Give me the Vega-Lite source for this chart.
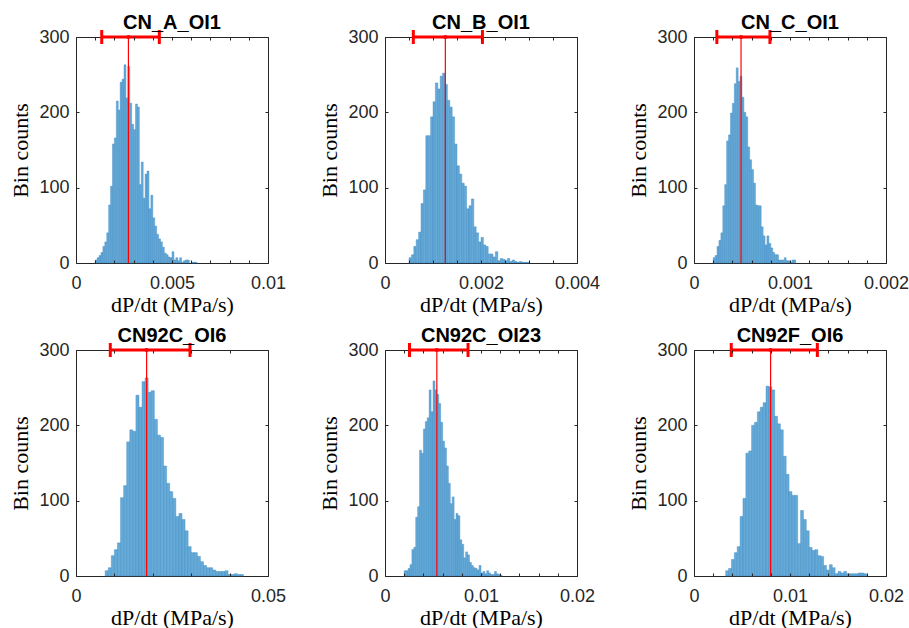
{
  "$schema": "https://vega.github.io/schema/vega-lite/v6.json",
  "background": "white",
  "padding": {"left": 9, "top": 12, "right": 5, "bottom": 5},
  "datasets": {
    "hist": [
      {"panel":"p1","x0":0.001,"x1":0.0011,"count":4},{"panel":"p1","x0":0.0011,"x1":0.0012,"count":7},{"panel":"p1","x0":0.0012,"x1":0.0013,"count":10},{"panel":"p1","x0":0.0013,"x1":0.0014,"count":14},{"panel":"p1","x0":0.0014,"x1":0.0015,"count":22},{"panel":"p1","x0":0.0015,"x1":0.0016,"count":28},{"panel":"p1","x0":0.0016,"x1":0.0017,"count":40},{"panel":"p1","x0":0.0017,"x1":0.0018,"count":77},{"panel":"p1","x0":0.0018,"x1":0.0019,"count":102},{"panel":"p1","x0":0.0019,"x1":0.002,"count":158},{"panel":"p1","x0":0.002,"x1":0.0021,"count":166},{"panel":"p1","x0":0.0021,"x1":0.0022,"count":215},{"panel":"p1","x0":0.0022,"x1":0.0023,"count":203},{"panel":"p1","x0":0.0023,"x1":0.0024,"count":240},{"panel":"p1","x0":0.0024,"x1":0.0025,"count":244},{"panel":"p1","x0":0.0025,"x1":0.0026,"count":263},{"panel":"p1","x0":0.0026,"x1":0.0027,"count":219},{"panel":"p1","x0":0.0027,"x1":0.0028,"count":261},{"panel":"p1","x0":0.0028,"x1":0.0029,"count":212},{"panel":"p1","x0":0.0029,"x1":0.003,"count":184},{"panel":"p1","x0":0.003,"x1":0.0031,"count":177},{"panel":"p1","x0":0.0031,"x1":0.0032,"count":211},{"panel":"p1","x0":0.0032,"x1":0.0033,"count":207},{"panel":"p1","x0":0.0033,"x1":0.0034,"count":104},{"panel":"p1","x0":0.0034,"x1":0.0035,"count":134},{"panel":"p1","x0":0.0035,"x1":0.0036,"count":86},{"panel":"p1","x0":0.0036,"x1":0.0037,"count":118},{"panel":"p1","x0":0.0037,"x1":0.0038,"count":122},{"panel":"p1","x0":0.0038,"x1":0.0039,"count":72},{"panel":"p1","x0":0.0039,"x1":0.004,"count":90},{"panel":"p1","x0":0.004,"x1":0.0041,"count":60},{"panel":"p1","x0":0.0041,"x1":0.0042,"count":49},{"panel":"p1","x0":0.0042,"x1":0.0043,"count":38},{"panel":"p1","x0":0.0043,"x1":0.0044,"count":32},{"panel":"p1","x0":0.0044,"x1":0.0045,"count":28},{"panel":"p1","x0":0.0045,"x1":0.0046,"count":21},{"panel":"p1","x0":0.0046,"x1":0.0047,"count":13},{"panel":"p1","x0":0.0047,"x1":0.0048,"count":11},{"panel":"p1","x0":0.0048,"x1":0.0049,"count":8},{"panel":"p1","x0":0.0049,"x1":0.005,"count":7},{"panel":"p1","x0":0.005,"x1":0.0051,"count":15},{"panel":"p1","x0":0.0051,"x1":0.0052,"count":4},{"panel":"p1","x0":0.0052,"x1":0.0053,"count":7},{"panel":"p1","x0":0.0053,"x1":0.0054,"count":3},{"panel":"p1","x0":0.0054,"x1":0.0055,"count":7},{"panel":"p1","x0":0.0055,"x1":0.0056,"count":1},{"panel":"p1","x0":0.0056,"x1":0.0057,"count":3},{"panel":"p1","x0":0.0057,"x1":0.0058,"count":4},{"panel":"p1","x0":0.0058,"x1":0.0059,"count":4},{"panel":"p1","x0":0.006,"x1":0.0061,"count":1},{"panel":"p1","x0":0.0061,"x1":0.0062,"count":1},{"panel":"p1","x0":0.0062,"x1":0.0063,"count":1},

      {"panel":"p2","x0":0.0005,"x1":0.00055,"count":7},{"panel":"p2","x0":0.00055,"x1":0.0006,"count":11},{"panel":"p2","x0":0.0006,"x1":0.00065,"count":22},{"panel":"p2","x0":0.00065,"x1":0.0007,"count":31},{"panel":"p2","x0":0.0007,"x1":0.00075,"count":41},{"panel":"p2","x0":0.00075,"x1":0.0008,"count":79},{"panel":"p2","x0":0.0008,"x1":0.00085,"count":97},{"panel":"p2","x0":0.00085,"x1":0.0009,"count":169},{"panel":"p2","x0":0.0009,"x1":0.00095,"count":169},{"panel":"p2","x0":0.00095,"x1":0.001,"count":194},{"panel":"p2","x0":0.001,"x1":0.00105,"count":214},{"panel":"p2","x0":0.00105,"x1":0.0011,"count":239},{"panel":"p2","x0":0.0011,"x1":0.00115,"count":231},{"panel":"p2","x0":0.00115,"x1":0.0012,"count":248},{"panel":"p2","x0":0.0012,"x1":0.00125,"count":252},{"panel":"p2","x0":0.00125,"x1":0.0013,"count":237},{"panel":"p2","x0":0.0013,"x1":0.00135,"count":216},{"panel":"p2","x0":0.00135,"x1":0.0014,"count":207},{"panel":"p2","x0":0.0014,"x1":0.00145,"count":194},{"panel":"p2","x0":0.00145,"x1":0.0015,"count":158},{"panel":"p2","x0":0.0015,"x1":0.00155,"count":129},{"panel":"p2","x0":0.00155,"x1":0.0016,"count":118},{"panel":"p2","x0":0.0016,"x1":0.00165,"count":106},{"panel":"p2","x0":0.00165,"x1":0.0017,"count":102},{"panel":"p2","x0":0.0017,"x1":0.00175,"count":72},{"panel":"p2","x0":0.00175,"x1":0.0018,"count":76},{"panel":"p2","x0":0.0018,"x1":0.00185,"count":85},{"panel":"p2","x0":0.00185,"x1":0.0019,"count":48},{"panel":"p2","x0":0.0019,"x1":0.00195,"count":40},{"panel":"p2","x0":0.00195,"x1":0.002,"count":28},{"panel":"p2","x0":0.002,"x1":0.00205,"count":34},{"panel":"p2","x0":0.00205,"x1":0.0021,"count":24},{"panel":"p2","x0":0.0021,"x1":0.00215,"count":22},{"panel":"p2","x0":0.00215,"x1":0.0022,"count":12},{"panel":"p2","x0":0.0022,"x1":0.00225,"count":12},{"panel":"p2","x0":0.00225,"x1":0.0023,"count":8},{"panel":"p2","x0":0.0023,"x1":0.00235,"count":15},{"panel":"p2","x0":0.00235,"x1":0.0024,"count":3},{"panel":"p2","x0":0.0024,"x1":0.00245,"count":6},{"panel":"p2","x0":0.00245,"x1":0.0025,"count":5},{"panel":"p2","x0":0.0025,"x1":0.00255,"count":3},{"panel":"p2","x0":0.00255,"x1":0.0026,"count":6},{"panel":"p2","x0":0.0026,"x1":0.00265,"count":2},{"panel":"p2","x0":0.00265,"x1":0.0027,"count":4},{"panel":"p2","x0":0.0027,"x1":0.00275,"count":2},{"panel":"p2","x0":0.00275,"x1":0.0028,"count":1},{"panel":"p2","x0":0.0028,"x1":0.00285,"count":2},{"panel":"p2","x0":0.00285,"x1":0.0029,"count":1},{"panel":"p2","x0":0.0029,"x1":0.00295,"count":1},{"panel":"p2","x0":0.00295,"x1":0.003,"count":1},

      {"panel":"p3","x0":0.0002,"x1":0.00022,"count":7},{"panel":"p3","x0":0.00022,"x1":0.00024,"count":10},{"panel":"p3","x0":0.00024,"x1":0.00026,"count":22},{"panel":"p3","x0":0.00026,"x1":0.00028,"count":30},{"panel":"p3","x0":0.00028,"x1":0.0003,"count":40},{"panel":"p3","x0":0.0003,"x1":0.00032,"count":76},{"panel":"p3","x0":0.00032,"x1":0.00034,"count":104},{"panel":"p3","x0":0.00034,"x1":0.00036,"count":162},{"panel":"p3","x0":0.00036,"x1":0.00038,"count":170},{"panel":"p3","x0":0.00038,"x1":0.0004,"count":199},{"panel":"p3","x0":0.0004,"x1":0.00042,"count":212},{"panel":"p3","x0":0.00042,"x1":0.00044,"count":238},{"panel":"p3","x0":0.00044,"x1":0.00046,"count":259},{"panel":"p3","x0":0.00046,"x1":0.00048,"count":241},{"panel":"p3","x0":0.00048,"x1":0.0005,"count":248},{"panel":"p3","x0":0.0005,"x1":0.00052,"count":220},{"panel":"p3","x0":0.00052,"x1":0.00054,"count":200},{"panel":"p3","x0":0.00054,"x1":0.00056,"count":194},{"panel":"p3","x0":0.00056,"x1":0.00058,"count":154},{"panel":"p3","x0":0.00058,"x1":0.0006,"count":137},{"panel":"p3","x0":0.0006,"x1":0.00062,"count":124},{"panel":"p3","x0":0.00062,"x1":0.00064,"count":106},{"panel":"p3","x0":0.00064,"x1":0.00066,"count":77},{"panel":"p3","x0":0.00066,"x1":0.00068,"count":76},{"panel":"p3","x0":0.00068,"x1":0.0007,"count":76},{"panel":"p3","x0":0.0007,"x1":0.00072,"count":48},{"panel":"p3","x0":0.00072,"x1":0.00074,"count":36},{"panel":"p3","x0":0.00074,"x1":0.00076,"count":24},{"panel":"p3","x0":0.00076,"x1":0.00078,"count":36},{"panel":"p3","x0":0.00078,"x1":0.0008,"count":26},{"panel":"p3","x0":0.0008,"x1":0.00082,"count":20},{"panel":"p3","x0":0.00082,"x1":0.00084,"count":14},{"panel":"p3","x0":0.00084,"x1":0.00086,"count":11},{"panel":"p3","x0":0.00086,"x1":0.00088,"count":11},{"panel":"p3","x0":0.00088,"x1":0.0009,"count":4},{"panel":"p3","x0":0.0009,"x1":0.00092,"count":4},{"panel":"p3","x0":0.00092,"x1":0.00094,"count":4},{"panel":"p3","x0":0.00094,"x1":0.00096,"count":7},{"panel":"p3","x0":0.00096,"x1":0.00098,"count":3},{"panel":"p3","x0":0.00098,"x1":0.001,"count":3},{"panel":"p3","x0":0.001,"x1":0.00102,"count":1},{"panel":"p3","x0":0.00102,"x1":0.00104,"count":4},{"panel":"p3","x0":0.00104,"x1":0.00106,"count":4},

      {"panel":"p4","x0":0.0076,"x1":0.0084,"count":7},{"panel":"p4","x0":0.0084,"x1":0.0092,"count":11},{"panel":"p4","x0":0.0092,"x1":0.01,"count":27},{"panel":"p4","x0":0.01,"x1":0.0108,"count":35},{"panel":"p4","x0":0.0108,"x1":0.0116,"count":44},{"panel":"p4","x0":0.0116,"x1":0.0124,"count":104},{"panel":"p4","x0":0.0124,"x1":0.0132,"count":120},{"panel":"p4","x0":0.0132,"x1":0.014,"count":178},{"panel":"p4","x0":0.014,"x1":0.0148,"count":194},{"panel":"p4","x0":0.0148,"x1":0.0156,"count":192},{"panel":"p4","x0":0.0156,"x1":0.0164,"count":240},{"panel":"p4","x0":0.0164,"x1":0.0172,"count":224},{"panel":"p4","x0":0.0172,"x1":0.018,"count":258},{"panel":"p4","x0":0.018,"x1":0.0188,"count":263},{"panel":"p4","x0":0.0188,"x1":0.0196,"count":244},{"panel":"p4","x0":0.0196,"x1":0.0204,"count":246},{"panel":"p4","x0":0.0204,"x1":0.0212,"count":208},{"panel":"p4","x0":0.0212,"x1":0.022,"count":187},{"panel":"p4","x0":0.022,"x1":0.0228,"count":184},{"panel":"p4","x0":0.0228,"x1":0.0236,"count":146},{"panel":"p4","x0":0.0236,"x1":0.0244,"count":123},{"panel":"p4","x0":0.0244,"x1":0.0252,"count":112},{"panel":"p4","x0":0.0252,"x1":0.026,"count":103},{"panel":"p4","x0":0.026,"x1":0.0268,"count":79},{"panel":"p4","x0":0.0268,"x1":0.0276,"count":83},{"panel":"p4","x0":0.0276,"x1":0.0284,"count":75},{"panel":"p4","x0":0.0284,"x1":0.0292,"count":60},{"panel":"p4","x0":0.0292,"x1":0.03,"count":39},{"panel":"p4","x0":0.03,"x1":0.0308,"count":31},{"panel":"p4","x0":0.0308,"x1":0.0316,"count":31},{"panel":"p4","x0":0.0316,"x1":0.0324,"count":26},{"panel":"p4","x0":0.0324,"x1":0.0332,"count":19},{"panel":"p4","x0":0.0332,"x1":0.034,"count":14},{"panel":"p4","x0":0.034,"x1":0.0348,"count":11},{"panel":"p4","x0":0.0348,"x1":0.0356,"count":11},{"panel":"p4","x0":0.0356,"x1":0.0364,"count":8},{"panel":"p4","x0":0.0364,"x1":0.0372,"count":6},{"panel":"p4","x0":0.0372,"x1":0.038,"count":6},{"panel":"p4","x0":0.038,"x1":0.0388,"count":6},{"panel":"p4","x0":0.0388,"x1":0.0396,"count":7},{"panel":"p4","x0":0.0396,"x1":0.0404,"count":2},{"panel":"p4","x0":0.0404,"x1":0.0412,"count":2},{"panel":"p4","x0":0.0412,"x1":0.042,"count":3},{"panel":"p4","x0":0.042,"x1":0.0428,"count":2},{"panel":"p4","x0":0.0428,"x1":0.0436,"count":2},

      {"panel":"p5","x0":0.002,"x1":0.0022,"count":7},{"panel":"p5","x0":0.0022,"x1":0.0024,"count":7},{"panel":"p5","x0":0.0024,"x1":0.0026,"count":10},{"panel":"p5","x0":0.0026,"x1":0.0028,"count":15},{"panel":"p5","x0":0.0028,"x1":0.003,"count":35},{"panel":"p5","x0":0.003,"x1":0.0032,"count":38},{"panel":"p5","x0":0.0032,"x1":0.0034,"count":78},{"panel":"p5","x0":0.0034,"x1":0.0036,"count":92},{"panel":"p5","x0":0.0036,"x1":0.0038,"count":167},{"panel":"p5","x0":0.0038,"x1":0.004,"count":163},{"panel":"p5","x0":0.004,"x1":0.0042,"count":195},{"panel":"p5","x0":0.0042,"x1":0.0044,"count":205},{"panel":"p5","x0":0.0044,"x1":0.0046,"count":210},{"panel":"p5","x0":0.0046,"x1":0.0048,"count":247},{"panel":"p5","x0":0.0048,"x1":0.005,"count":218},{"panel":"p5","x0":0.005,"x1":0.0052,"count":259},{"panel":"p5","x0":0.0052,"x1":0.0054,"count":247},{"panel":"p5","x0":0.0054,"x1":0.0056,"count":241},{"panel":"p5","x0":0.0056,"x1":0.0058,"count":229},{"panel":"p5","x0":0.0058,"x1":0.006,"count":204},{"panel":"p5","x0":0.006,"x1":0.0062,"count":179},{"panel":"p5","x0":0.0062,"x1":0.0064,"count":170},{"panel":"p5","x0":0.0064,"x1":0.0066,"count":146},{"panel":"p5","x0":0.0066,"x1":0.0068,"count":123},{"panel":"p5","x0":0.0068,"x1":0.007,"count":96},{"panel":"p5","x0":0.007,"x1":0.0072,"count":105},{"panel":"p5","x0":0.0072,"x1":0.0074,"count":75},{"panel":"p5","x0":0.0074,"x1":0.0076,"count":83},{"panel":"p5","x0":0.0076,"x1":0.0078,"count":80},{"panel":"p5","x0":0.0078,"x1":0.008,"count":48},{"panel":"p5","x0":0.008,"x1":0.0082,"count":42},{"panel":"p5","x0":0.0082,"x1":0.0084,"count":24},{"panel":"p5","x0":0.0084,"x1":0.0086,"count":32},{"panel":"p5","x0":0.0086,"x1":0.0088,"count":28},{"panel":"p5","x0":0.0088,"x1":0.009,"count":18},{"panel":"p5","x0":0.009,"x1":0.0092,"count":14},{"panel":"p5","x0":0.0092,"x1":0.0094,"count":11},{"panel":"p5","x0":0.0094,"x1":0.0096,"count":10},{"panel":"p5","x0":0.0096,"x1":0.0098,"count":8},{"panel":"p5","x0":0.0098,"x1":0.01,"count":14},{"panel":"p5","x0":0.01,"x1":0.0102,"count":4},{"panel":"p5","x0":0.0102,"x1":0.0104,"count":6},{"panel":"p5","x0":0.0104,"x1":0.0106,"count":3},{"panel":"p5","x0":0.0106,"x1":0.0108,"count":7},{"panel":"p5","x0":0.0108,"x1":0.011,"count":4},{"panel":"p5","x0":0.011,"x1":0.0112,"count":2},{"panel":"p5","x0":0.0112,"x1":0.0114,"count":2},{"panel":"p5","x0":0.0114,"x1":0.0116,"count":6},{"panel":"p5","x0":0.0116,"x1":0.0118,"count":3},{"panel":"p5","x0":0.0118,"x1":0.012,"count":2},{"panel":"p5","x0":0.012,"x1":0.0122,"count":1},

      {"panel":"p6","x0":0.0033,"x1":0.0036,"count":7},{"panel":"p6","x0":0.0036,"x1":0.0039,"count":10},{"panel":"p6","x0":0.0039,"x1":0.0042,"count":22},{"panel":"p6","x0":0.0042,"x1":0.0045,"count":31},{"panel":"p6","x0":0.0045,"x1":0.0048,"count":39},{"panel":"p6","x0":0.0048,"x1":0.0051,"count":79},{"panel":"p6","x0":0.0051,"x1":0.0054,"count":103},{"panel":"p6","x0":0.0054,"x1":0.0057,"count":163},{"panel":"p6","x0":0.0057,"x1":0.006,"count":166},{"panel":"p6","x0":0.006,"x1":0.0063,"count":200},{"panel":"p6","x0":0.0063,"x1":0.0066,"count":204},{"panel":"p6","x0":0.0066,"x1":0.0069,"count":218},{"panel":"p6","x0":0.0069,"x1":0.0072,"count":224},{"panel":"p6","x0":0.0072,"x1":0.0075,"count":230},{"panel":"p6","x0":0.0075,"x1":0.0078,"count":252},{"panel":"p6","x0":0.0078,"x1":0.0081,"count":251},{"panel":"p6","x0":0.0081,"x1":0.0084,"count":247},{"panel":"p6","x0":0.0084,"x1":0.0087,"count":212},{"panel":"p6","x0":0.0087,"x1":0.009,"count":202},{"panel":"p6","x0":0.009,"x1":0.0093,"count":194},{"panel":"p6","x0":0.0093,"x1":0.0096,"count":159},{"panel":"p6","x0":0.0096,"x1":0.0099,"count":135},{"panel":"p6","x0":0.0099,"x1":0.0102,"count":112},{"panel":"p6","x0":0.0102,"x1":0.0105,"count":107},{"panel":"p6","x0":0.0105,"x1":0.0108,"count":107},{"panel":"p6","x0":0.0108,"x1":0.0111,"count":43},{"panel":"p6","x0":0.0111,"x1":0.0114,"count":87},{"panel":"p6","x0":0.0114,"x1":0.0117,"count":75},{"panel":"p6","x0":0.0117,"x1":0.012,"count":60},{"panel":"p6","x0":0.012,"x1":0.0123,"count":38},{"panel":"p6","x0":0.0123,"x1":0.0126,"count":34},{"panel":"p6","x0":0.0126,"x1":0.0129,"count":35},{"panel":"p6","x0":0.0129,"x1":0.0132,"count":27},{"panel":"p6","x0":0.0132,"x1":0.0135,"count":26},{"panel":"p6","x0":0.0135,"x1":0.0138,"count":14},{"panel":"p6","x0":0.0138,"x1":0.0141,"count":8},{"panel":"p6","x0":0.0141,"x1":0.0144,"count":15},{"panel":"p6","x0":0.0144,"x1":0.0147,"count":11},{"panel":"p6","x0":0.0147,"x1":0.015,"count":3},{"panel":"p6","x0":0.015,"x1":0.0153,"count":6},{"panel":"p6","x0":0.0153,"x1":0.0156,"count":4},{"panel":"p6","x0":0.0156,"x1":0.0159,"count":6},{"panel":"p6","x0":0.0159,"x1":0.0162,"count":3},{"panel":"p6","x0":0.0162,"x1":0.0165,"count":3},{"panel":"p6","x0":0.0165,"x1":0.0168,"count":3},{"panel":"p6","x0":0.0168,"x1":0.0171,"count":3},{"panel":"p6","x0":0.0171,"x1":0.0174,"count":4},{"panel":"p6","x0":0.0174,"x1":0.0177,"count":4},{"panel":"p6","x0":0.0177,"x1":0.018,"count":3}
    ],
    "stats": [
      {"panel":"p1","median":0.00273,"lo":0.00134,"hi":0.00434},
      {"panel":"p2","median":0.001257,"lo":0.00059,"hi":0.00203},
      {"panel":"p3","median":0.00049,"lo":0.000238,"hi":0.000791},
      {"panel":"p4","median":0.01839,"lo":0.00893,"hi":0.02969},
      {"panel":"p5","median":0.0054,"lo":0.00255,"hi":0.00865},
      {"panel":"p6","median":0.00798,"lo":0.00388,"hi":0.01285}
    ]
  },
  "columns": 3,
  "spacing": {"row": 87, "column": 117},
  "bounds": "flush",
  "concat": [
    {
      "width": 192, "height": 226, "title": "CN_A_OI1",
      "resolve": {"axis": {"x": "independent", "y": "independent"}},
      "layer": [
        {"data": {"name": "hist"}, "transform": [{"filter": "datum.panel === 'p1'"}],
         "mark": {"type": "bar", "fill": "#66aad7", "stroke": "#3585c2", "strokeWidth": 0.4},
         "encoding": {
           "x": {"field": "x0", "type": "quantitative", "scale": {"domain": [0, 0.01], "nice": false, "zero": false, "padding": 0},
                 "axis": {"orient": "bottom", "values": [0,0.001,0.002,0.003,0.004,0.005,0.006,0.007,0.008,0.009,0.01], "format": "~g", "labelExpr": "indexof(['0','0.005','0.01'], datum.label) >= 0 ? datum.label : ''", "title": "dP/dt (MPa/s)", "ticks": false}},
           "x2": {"field": "x1"},
           "y": {"field": "count", "type": "quantitative", "scale": {"domain": [0, 300], "nice": false, "padding": 0},
                 "axis": {"orient": "left", "values": [0,100,200,300], "title": "Bin counts", "ticks": false}},
           "y2": {"datum": 0}
         }},
        {"data": {"name": "stats"}, "transform": [{"filter": "datum.panel === 'p1'"}],
         "mark": {"type": "rule", "color": "#ff0000", "strokeWidth": 1.2},
         "encoding": {
           "x": {"field": "median", "type": "quantitative", "axis": {"orient": "top", "offset": -226, "values": [0,0.001,0.002,0.003,0.004,0.005,0.006,0.007,0.008,0.009,0.01], "labels": false, "title": null, "zindex": 1}},
           "y": {"datum": 0, "type": "quantitative", "axis": {"orient": "right", "offset": -192, "values": [0,100,200,300], "labels": false, "title": null, "zindex": 1}},
           "y2": {"datum": 300}
         }},
        {"data": {"name": "stats"}, "transform": [{"filter": "datum.panel === 'p1'"}],
         "mark": {"type": "rule", "color": "#ff0000", "strokeWidth": 3},
         "encoding": {"x": {"field": "lo", "type": "quantitative", "axis": {"orient": "bottom", "offset": -226, "values": [0,0.001,0.002,0.003,0.004,0.005,0.006,0.007,0.008,0.009,0.01], "labels": false, "title": null, "zindex": 1}}, "x2": {"field": "hi"},
                      "y": {"datum": 300, "type": "quantitative", "axis": {"orient": "left", "offset": -192, "values": [0,100,200,300], "labels": false, "title": null, "zindex": 1}}}},
        {"data": {"name": "stats"}, "transform": [{"filter": "datum.panel === 'p1'"}],
         "mark": {"type": "tick", "orient": "vertical", "color": "#ff0000", "size": 14, "thickness": 3, "opacity": 1},
         "encoding": {"x": {"field": "lo", "type": "quantitative", "axis": null}, "y": {"datum": 300, "type": "quantitative", "axis": null}}},
        {"data": {"name": "stats"}, "transform": [{"filter": "datum.panel === 'p1'"}],
         "mark": {"type": "tick", "orient": "vertical", "color": "#ff0000", "size": 14, "thickness": 3, "opacity": 1},
         "encoding": {"x": {"field": "hi", "type": "quantitative", "axis": null}, "y": {"datum": 300, "type": "quantitative", "axis": null}}},
        {"data": {"name": "stats"}, "transform": [{"filter": "datum.panel === 'p1'"}],
         "mark": {"type": "point", "filled": true, "color": "#ff0000", "size": 18, "opacity": 1},
         "encoding": {"x": {"field": "median", "type": "quantitative", "axis": null}, "y": {"datum": 300, "type": "quantitative", "axis": null}}}
      ]
    },
    {
      "width": 192, "height": 226, "title": "CN_B_OI1",
      "resolve": {"axis": {"x": "independent", "y": "independent"}},
      "layer": [
        {"data": {"name": "hist"}, "transform": [{"filter": "datum.panel === 'p2'"}],
         "mark": {"type": "bar", "fill": "#66aad7", "stroke": "#3585c2", "strokeWidth": 0.4},
         "encoding": {
           "x": {"field": "x0", "type": "quantitative", "scale": {"domain": [0, 0.004], "nice": false, "zero": false, "padding": 0},
                 "axis": {"orient": "bottom", "values": [0,0.0005,0.001,0.0015,0.002,0.0025,0.003,0.0035,0.004], "format": "~g", "labelExpr": "indexof(['0','0.002','0.004'], datum.label) >= 0 ? datum.label : ''", "title": "dP/dt (MPa/s)", "ticks": false}},
           "x2": {"field": "x1"},
           "y": {"field": "count", "type": "quantitative", "scale": {"domain": [0, 300], "nice": false, "padding": 0},
                 "axis": {"orient": "left", "values": [0,100,200,300], "title": "Bin counts", "ticks": false}},
           "y2": {"datum": 0}
         }},
        {"data": {"name": "stats"}, "transform": [{"filter": "datum.panel === 'p2'"}],
         "mark": {"type": "rule", "color": "#ff0000", "strokeWidth": 1.2},
         "encoding": {
           "x": {"field": "median", "type": "quantitative", "axis": {"orient": "top", "offset": -226, "values": [0,0.0005,0.001,0.0015,0.002,0.0025,0.003,0.0035,0.004], "labels": false, "title": null, "zindex": 1}},
           "y": {"datum": 0, "type": "quantitative", "axis": {"orient": "right", "offset": -192, "values": [0,100,200,300], "labels": false, "title": null, "zindex": 1}},
           "y2": {"datum": 300}
         }},
        {"data": {"name": "stats"}, "transform": [{"filter": "datum.panel === 'p2'"}],
         "mark": {"type": "rule", "color": "#ff0000", "strokeWidth": 3},
         "encoding": {"x": {"field": "lo", "type": "quantitative", "axis": {"orient": "bottom", "offset": -226, "values": [0,0.0005,0.001,0.0015,0.002,0.0025,0.003,0.0035,0.004], "labels": false, "title": null, "zindex": 1}}, "x2": {"field": "hi"},
                      "y": {"datum": 300, "type": "quantitative", "axis": {"orient": "left", "offset": -192, "values": [0,100,200,300], "labels": false, "title": null, "zindex": 1}}}},
        {"data": {"name": "stats"}, "transform": [{"filter": "datum.panel === 'p2'"}],
         "mark": {"type": "tick", "orient": "vertical", "color": "#ff0000", "size": 14, "thickness": 3, "opacity": 1},
         "encoding": {"x": {"field": "lo", "type": "quantitative", "axis": null}, "y": {"datum": 300, "type": "quantitative", "axis": null}}},
        {"data": {"name": "stats"}, "transform": [{"filter": "datum.panel === 'p2'"}],
         "mark": {"type": "tick", "orient": "vertical", "color": "#ff0000", "size": 14, "thickness": 3, "opacity": 1},
         "encoding": {"x": {"field": "hi", "type": "quantitative", "axis": null}, "y": {"datum": 300, "type": "quantitative", "axis": null}}},
        {"data": {"name": "stats"}, "transform": [{"filter": "datum.panel === 'p2'"}],
         "mark": {"type": "point", "filled": true, "color": "#ff0000", "size": 18, "opacity": 1},
         "encoding": {"x": {"field": "median", "type": "quantitative", "axis": null}, "y": {"datum": 300, "type": "quantitative", "axis": null}}}
      ]
    },
    {
      "width": 192, "height": 226, "title": "CN_C_OI1",
      "resolve": {"axis": {"x": "independent", "y": "independent"}},
      "layer": [
        {"data": {"name": "hist"}, "transform": [{"filter": "datum.panel === 'p3'"}],
         "mark": {"type": "bar", "fill": "#66aad7", "stroke": "#3585c2", "strokeWidth": 0.4},
         "encoding": {
           "x": {"field": "x0", "type": "quantitative", "scale": {"domain": [0, 0.002], "nice": false, "zero": false, "padding": 0},
                 "axis": {"orient": "bottom", "values": [0,0.0002,0.0004,0.0006,0.0008,0.001,0.0012,0.0014,0.0016,0.0018,0.002], "format": "~g", "labelExpr": "indexof(['0','0.001','0.002'], datum.label) >= 0 ? datum.label : ''", "title": "dP/dt (MPa/s)", "ticks": false}},
           "x2": {"field": "x1"},
           "y": {"field": "count", "type": "quantitative", "scale": {"domain": [0, 300], "nice": false, "padding": 0},
                 "axis": {"orient": "left", "values": [0,100,200,300], "title": "Bin counts", "ticks": false}},
           "y2": {"datum": 0}
         }},
        {"data": {"name": "stats"}, "transform": [{"filter": "datum.panel === 'p3'"}],
         "mark": {"type": "rule", "color": "#ff0000", "strokeWidth": 1.2},
         "encoding": {
           "x": {"field": "median", "type": "quantitative", "axis": {"orient": "top", "offset": -226, "values": [0,0.0002,0.0004,0.0006,0.0008,0.001,0.0012,0.0014,0.0016,0.0018,0.002], "labels": false, "title": null, "zindex": 1}},
           "y": {"datum": 0, "type": "quantitative", "axis": {"orient": "right", "offset": -192, "values": [0,100,200,300], "labels": false, "title": null, "zindex": 1}},
           "y2": {"datum": 300}
         }},
        {"data": {"name": "stats"}, "transform": [{"filter": "datum.panel === 'p3'"}],
         "mark": {"type": "rule", "color": "#ff0000", "strokeWidth": 3},
         "encoding": {"x": {"field": "lo", "type": "quantitative", "axis": {"orient": "bottom", "offset": -226, "values": [0,0.0002,0.0004,0.0006,0.0008,0.001,0.0012,0.0014,0.0016,0.0018,0.002], "labels": false, "title": null, "zindex": 1}}, "x2": {"field": "hi"},
                      "y": {"datum": 300, "type": "quantitative", "axis": {"orient": "left", "offset": -192, "values": [0,100,200,300], "labels": false, "title": null, "zindex": 1}}}},
        {"data": {"name": "stats"}, "transform": [{"filter": "datum.panel === 'p3'"}],
         "mark": {"type": "tick", "orient": "vertical", "color": "#ff0000", "size": 14, "thickness": 3, "opacity": 1},
         "encoding": {"x": {"field": "lo", "type": "quantitative", "axis": null}, "y": {"datum": 300, "type": "quantitative", "axis": null}}},
        {"data": {"name": "stats"}, "transform": [{"filter": "datum.panel === 'p3'"}],
         "mark": {"type": "tick", "orient": "vertical", "color": "#ff0000", "size": 14, "thickness": 3, "opacity": 1},
         "encoding": {"x": {"field": "hi", "type": "quantitative", "axis": null}, "y": {"datum": 300, "type": "quantitative", "axis": null}}},
        {"data": {"name": "stats"}, "transform": [{"filter": "datum.panel === 'p3'"}],
         "mark": {"type": "point", "filled": true, "color": "#ff0000", "size": 18, "opacity": 1},
         "encoding": {"x": {"field": "median", "type": "quantitative", "axis": null}, "y": {"datum": 300, "type": "quantitative", "axis": null}}}
      ]
    },
    {
      "width": 192, "height": 226, "title": "CN92C_OI6",
      "resolve": {"axis": {"x": "independent", "y": "independent"}},
      "layer": [
        {"data": {"name": "hist"}, "transform": [{"filter": "datum.panel === 'p4'"}],
         "mark": {"type": "bar", "fill": "#66aad7", "stroke": "#3585c2", "strokeWidth": 0.4},
         "encoding": {
           "x": {"field": "x0", "type": "quantitative", "scale": {"domain": [0, 0.05], "nice": false, "zero": false, "padding": 0},
                 "axis": {"orient": "bottom", "values": [0,0.01,0.02,0.03,0.04,0.05], "format": "~g", "labelExpr": "indexof(['0','0.05'], datum.label) >= 0 ? datum.label : ''", "title": "dP/dt (MPa/s)", "ticks": false}},
           "x2": {"field": "x1"},
           "y": {"field": "count", "type": "quantitative", "scale": {"domain": [0, 300], "nice": false, "padding": 0},
                 "axis": {"orient": "left", "values": [0,100,200,300], "title": "Bin counts", "ticks": false}},
           "y2": {"datum": 0}
         }},
        {"data": {"name": "stats"}, "transform": [{"filter": "datum.panel === 'p4'"}],
         "mark": {"type": "rule", "color": "#ff0000", "strokeWidth": 1.2},
         "encoding": {
           "x": {"field": "median", "type": "quantitative", "axis": {"orient": "top", "offset": -226, "values": [0,0.01,0.02,0.03,0.04,0.05], "labels": false, "title": null, "zindex": 1}},
           "y": {"datum": 0, "type": "quantitative", "axis": {"orient": "right", "offset": -192, "values": [0,100,200,300], "labels": false, "title": null, "zindex": 1}},
           "y2": {"datum": 300}
         }},
        {"data": {"name": "stats"}, "transform": [{"filter": "datum.panel === 'p4'"}],
         "mark": {"type": "rule", "color": "#ff0000", "strokeWidth": 3},
         "encoding": {"x": {"field": "lo", "type": "quantitative", "axis": {"orient": "bottom", "offset": -226, "values": [0,0.01,0.02,0.03,0.04,0.05], "labels": false, "title": null, "zindex": 1}}, "x2": {"field": "hi"},
                      "y": {"datum": 300, "type": "quantitative", "axis": {"orient": "left", "offset": -192, "values": [0,100,200,300], "labels": false, "title": null, "zindex": 1}}}},
        {"data": {"name": "stats"}, "transform": [{"filter": "datum.panel === 'p4'"}],
         "mark": {"type": "tick", "orient": "vertical", "color": "#ff0000", "size": 14, "thickness": 3, "opacity": 1},
         "encoding": {"x": {"field": "lo", "type": "quantitative", "axis": null}, "y": {"datum": 300, "type": "quantitative", "axis": null}}},
        {"data": {"name": "stats"}, "transform": [{"filter": "datum.panel === 'p4'"}],
         "mark": {"type": "tick", "orient": "vertical", "color": "#ff0000", "size": 14, "thickness": 3, "opacity": 1},
         "encoding": {"x": {"field": "hi", "type": "quantitative", "axis": null}, "y": {"datum": 300, "type": "quantitative", "axis": null}}},
        {"data": {"name": "stats"}, "transform": [{"filter": "datum.panel === 'p4'"}],
         "mark": {"type": "point", "filled": true, "color": "#ff0000", "size": 18, "opacity": 1},
         "encoding": {"x": {"field": "median", "type": "quantitative", "axis": null}, "y": {"datum": 300, "type": "quantitative", "axis": null}}}
      ]
    },
    {
      "width": 192, "height": 226, "title": "CN92C_OI23",
      "resolve": {"axis": {"x": "independent", "y": "independent"}},
      "layer": [
        {"data": {"name": "hist"}, "transform": [{"filter": "datum.panel === 'p5'"}],
         "mark": {"type": "bar", "fill": "#66aad7", "stroke": "#3585c2", "strokeWidth": 0.4},
         "encoding": {
           "x": {"field": "x0", "type": "quantitative", "scale": {"domain": [0, 0.02], "nice": false, "zero": false, "padding": 0},
                 "axis": {"orient": "bottom", "values": [0,0.002,0.004,0.006,0.008,0.01,0.012,0.014,0.016,0.018,0.02], "format": "~g", "labelExpr": "indexof(['0','0.01','0.02'], datum.label) >= 0 ? datum.label : ''", "title": "dP/dt (MPa/s)", "ticks": false}},
           "x2": {"field": "x1"},
           "y": {"field": "count", "type": "quantitative", "scale": {"domain": [0, 300], "nice": false, "padding": 0},
                 "axis": {"orient": "left", "values": [0,100,200,300], "title": "Bin counts", "ticks": false}},
           "y2": {"datum": 0}
         }},
        {"data": {"name": "stats"}, "transform": [{"filter": "datum.panel === 'p5'"}],
         "mark": {"type": "rule", "color": "#ff0000", "strokeWidth": 1.2},
         "encoding": {
           "x": {"field": "median", "type": "quantitative", "axis": {"orient": "top", "offset": -226, "values": [0,0.002,0.004,0.006,0.008,0.01,0.012,0.014,0.016,0.018,0.02], "labels": false, "title": null, "zindex": 1}},
           "y": {"datum": 0, "type": "quantitative", "axis": {"orient": "right", "offset": -192, "values": [0,100,200,300], "labels": false, "title": null, "zindex": 1}},
           "y2": {"datum": 300}
         }},
        {"data": {"name": "stats"}, "transform": [{"filter": "datum.panel === 'p5'"}],
         "mark": {"type": "rule", "color": "#ff0000", "strokeWidth": 3},
         "encoding": {"x": {"field": "lo", "type": "quantitative", "axis": {"orient": "bottom", "offset": -226, "values": [0,0.002,0.004,0.006,0.008,0.01,0.012,0.014,0.016,0.018,0.02], "labels": false, "title": null, "zindex": 1}}, "x2": {"field": "hi"},
                      "y": {"datum": 300, "type": "quantitative", "axis": {"orient": "left", "offset": -192, "values": [0,100,200,300], "labels": false, "title": null, "zindex": 1}}}},
        {"data": {"name": "stats"}, "transform": [{"filter": "datum.panel === 'p5'"}],
         "mark": {"type": "tick", "orient": "vertical", "color": "#ff0000", "size": 14, "thickness": 3, "opacity": 1},
         "encoding": {"x": {"field": "lo", "type": "quantitative", "axis": null}, "y": {"datum": 300, "type": "quantitative", "axis": null}}},
        {"data": {"name": "stats"}, "transform": [{"filter": "datum.panel === 'p5'"}],
         "mark": {"type": "tick", "orient": "vertical", "color": "#ff0000", "size": 14, "thickness": 3, "opacity": 1},
         "encoding": {"x": {"field": "hi", "type": "quantitative", "axis": null}, "y": {"datum": 300, "type": "quantitative", "axis": null}}},
        {"data": {"name": "stats"}, "transform": [{"filter": "datum.panel === 'p5'"}],
         "mark": {"type": "point", "filled": true, "color": "#ff0000", "size": 18, "opacity": 1},
         "encoding": {"x": {"field": "median", "type": "quantitative", "axis": null}, "y": {"datum": 300, "type": "quantitative", "axis": null}}}
      ]
    },
    {
      "width": 192, "height": 226, "title": "CN92F_OI6",
      "resolve": {"axis": {"x": "independent", "y": "independent"}},
      "layer": [
        {"data": {"name": "hist"}, "transform": [{"filter": "datum.panel === 'p6'"}],
         "mark": {"type": "bar", "fill": "#66aad7", "stroke": "#3585c2", "strokeWidth": 0.4},
         "encoding": {
           "x": {"field": "x0", "type": "quantitative", "scale": {"domain": [0, 0.02], "nice": false, "zero": false, "padding": 0},
                 "axis": {"orient": "bottom", "values": [0,0.002,0.004,0.006,0.008,0.01,0.012,0.014,0.016,0.018,0.02], "format": "~g", "labelExpr": "indexof(['0','0.01','0.02'], datum.label) >= 0 ? datum.label : ''", "title": "dP/dt (MPa/s)", "ticks": false}},
           "x2": {"field": "x1"},
           "y": {"field": "count", "type": "quantitative", "scale": {"domain": [0, 300], "nice": false, "padding": 0},
                 "axis": {"orient": "left", "values": [0,100,200,300], "title": "Bin counts", "ticks": false}},
           "y2": {"datum": 0}
         }},
        {"data": {"name": "stats"}, "transform": [{"filter": "datum.panel === 'p6'"}],
         "mark": {"type": "rule", "color": "#ff0000", "strokeWidth": 1.2},
         "encoding": {
           "x": {"field": "median", "type": "quantitative", "axis": {"orient": "top", "offset": -226, "values": [0,0.002,0.004,0.006,0.008,0.01,0.012,0.014,0.016,0.018,0.02], "labels": false, "title": null, "zindex": 1}},
           "y": {"datum": 0, "type": "quantitative", "axis": {"orient": "right", "offset": -192, "values": [0,100,200,300], "labels": false, "title": null, "zindex": 1}},
           "y2": {"datum": 300}
         }},
        {"data": {"name": "stats"}, "transform": [{"filter": "datum.panel === 'p6'"}],
         "mark": {"type": "rule", "color": "#ff0000", "strokeWidth": 3},
         "encoding": {"x": {"field": "lo", "type": "quantitative", "axis": {"orient": "bottom", "offset": -226, "values": [0,0.002,0.004,0.006,0.008,0.01,0.012,0.014,0.016,0.018,0.02], "labels": false, "title": null, "zindex": 1}}, "x2": {"field": "hi"},
                      "y": {"datum": 300, "type": "quantitative", "axis": {"orient": "left", "offset": -192, "values": [0,100,200,300], "labels": false, "title": null, "zindex": 1}}}},
        {"data": {"name": "stats"}, "transform": [{"filter": "datum.panel === 'p6'"}],
         "mark": {"type": "tick", "orient": "vertical", "color": "#ff0000", "size": 14, "thickness": 3, "opacity": 1},
         "encoding": {"x": {"field": "lo", "type": "quantitative", "axis": null}, "y": {"datum": 300, "type": "quantitative", "axis": null}}},
        {"data": {"name": "stats"}, "transform": [{"filter": "datum.panel === 'p6'"}],
         "mark": {"type": "tick", "orient": "vertical", "color": "#ff0000", "size": 14, "thickness": 3, "opacity": 1},
         "encoding": {"x": {"field": "hi", "type": "quantitative", "axis": null}, "y": {"datum": 300, "type": "quantitative", "axis": null}}},
        {"data": {"name": "stats"}, "transform": [{"filter": "datum.panel === 'p6'"}],
         "mark": {"type": "point", "filled": true, "color": "#ff0000", "size": 18, "opacity": 1},
         "encoding": {"x": {"field": "median", "type": "quantitative", "axis": null}, "y": {"datum": 300, "type": "quantitative", "axis": null}}}
      ]
    }
  ],
  "config": {
    "view": {"stroke": "#262626", "strokeWidth": 1},
    "scale": {"continuousPadding": 0},
    "axis": {"grid": false, "domain": false, "labelFont": "Liberation Sans", "labelFontSize": 18, "labelColor": "#262626", "titleFont": "Liberation Serif", "titleFontSize": 22, "titleFontWeight": "normal", "titleColor": "#000000", "tickColor": "#262626", "tickSize": 3, "tickWidth": 1, "labelOverlap": false, "labelFlush": false},
    "axisX": {"labelPadding": 11, "titlePadding": 2},
    "axisY": {"labelPadding": 7, "titlePadding": 6},
    "title": {"font": "Liberation Sans", "fontSize": 20, "fontWeight": "bold", "color": "#000000", "frame": "group", "anchor": "middle", "offset": -5}
  }
}
